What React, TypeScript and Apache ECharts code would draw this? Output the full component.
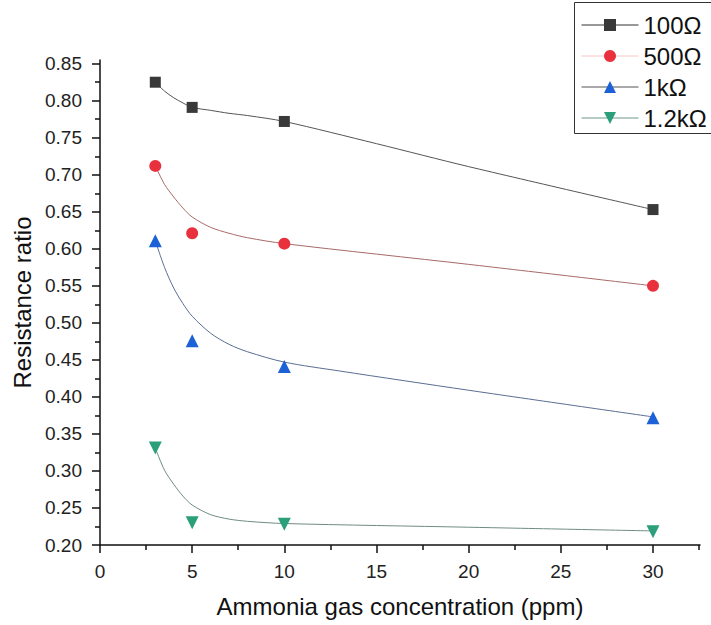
import React, { useEffect, useRef } from "react";
import * as echarts from "echarts";

const FONT = '"Liberation Sans", Arial, Helvetica, sans-serif';

// Measured points
const seriesNames = ["100Ω", "500Ω", "1kΩ", "1.2kΩ"];
const concentrations = [3, 5, 10, 30];
const ratio100 = [0.825, 0.791, 0.772, 0.653];
const ratio500 = [0.712, 0.621, 0.607, 0.55];
const ratio1k = [0.611, 0.476, 0.441, 0.372];
const ratio12k = [0.331, 0.23, 0.228, 0.218];

// Fitted curves
const fit100X = [3, 3.5, 4, 4.5, 5, 6, 7, 8, 10, 15, 20, 30];
const fit100Y = [0.825, 0.813, 0.804, 0.797, 0.791, 0.787, 0.783, 0.78, 0.772, 0.742, 0.711, 0.653];
const fit500X = [3, 3.5, 4, 4.5, 5, 6, 7, 8, 10, 20, 30];
const fit500Y = [0.712, 0.687, 0.67, 0.655, 0.643, 0.629, 0.621, 0.615, 0.607, 0.579, 0.55];
const fit1kX = [3, 3.5, 4, 4.5, 5, 6, 7, 8, 10, 13, 20, 30];
const fit1kY = [0.611, 0.575, 0.547, 0.526, 0.509, 0.486, 0.471, 0.461, 0.447, 0.435, 0.409, 0.373];
const fit12kX = [3, 3.5, 4, 4.5, 5, 6, 7, 8, 10, 20, 30];
const fit12kY = [0.331, 0.301, 0.282, 0.266, 0.254, 0.241, 0.235, 0.232, 0.229, 0.224, 0.219];

// Axis ticks
const xTicks = [0, 5, 10, 15, 20, 25, 30];
const yTicks = [0.2, 0.25, 0.3, 0.35, 0.4, 0.45, 0.5, 0.55, 0.6, 0.65, 0.7, 0.75, 0.8, 0.85];

const markerColors = ["#393939", "#E8313C", "#1C61D6", "#2B9E7A"];
const curveColors = ["#555555", "#a86a6a", "#5a6e92", "#6f8c80"];
const legendLineColors = ["#333333", "#f3c6c6", "#555555", "#6a9a8a"];
const symbols = ["rect", "circle", "triangle", "triangle"];
const symbolSizes = [11, 12, 13, 13];
const symbolRotates = [0, 0, 0, 180];

const pair = (xs: number[], ys: number[]) => xs.map((x, i) => [x, ys[i]]);

export default function App() {
  const ref = useRef<HTMLDivElement>(null);
  useEffect(() => {
    if (!ref.current) return;
    const chart = echarts.init(ref.current, undefined, { renderer: "svg" });
    const measured = [ratio100, ratio500, ratio1k, ratio12k];
    const fits = [
      pair(fit100X, fit100Y),
      pair(fit500X, fit500Y),
      pair(fit1kX, fit1kY),
      pair(fit12kX, fit12kY),
    ];
    const series: any[] = [];
    fits.forEach((d, i) => {
      series.push({
        type: "line",
        name: seriesNames[i] + " fit",
        data: d,
        smooth: 0.3,
        showSymbol: false,
        symbol: "none",
        silent: true,
        lineStyle: { color: curveColors[i], width: 1 },
        z: 2,
      });
    });
    measured.forEach((vals, i) => {
      series.push({
        type: "line",
        name: seriesNames[i],
        data: pair(concentrations, vals),
        symbol: symbols[i],
        symbolSize: symbolSizes[i],
        symbolRotate: symbolRotates[i],
        itemStyle: { color: markerColors[i], opacity: 1 },
        lineStyle: { opacity: 0, width: 0 },
        z: 3,
      });
    });

    chart.setOption({
      animation: false,
      backgroundColor: "#ffffff",
      grid: { left: 100, right: 11, top: 60, bottom: 80, containLabel: false },
      graphic: [
        {
          type: "rect",
          z: 10,
          shape: { x: 574.5, y: 2.5, width: 160, height: 131 },
          style: { fill: "none", stroke: "#333333", lineWidth: 1 },
        },
      ],
      legend: {
        orient: "vertical",
        left: 574,
        top: 2,
        padding: [11, 12, 3, 7],
        itemWidth: 57,
        itemHeight: 15,
        itemGap: 7,
        borderWidth: 0,
        backgroundColor: "#ffffff",
        textStyle: { fontSize: 24, fontFamily: FONT, color: "#111111" },
        data: seriesNames.map((n, i) => ({
          name: n,
          lineStyle: { color: legendLineColors[i], width: 1, opacity: 1 },
          itemStyle: { color: markerColors[i], opacity: 1 },
        })),
      },
      xAxis: {
        type: "value",
        min: 0,
        max: 32.55,
        interval: 5,
        name: "Ammonia gas concentration (ppm)",
        nameLocation: "middle",
        nameGap: 49,
        nameTextStyle: { fontSize: 24, fontFamily: FONT, color: "#111111" },
        axisLine: { show: true, onZero: false, lineStyle: { color: "#111111", width: 1.5 } },
        axisTick: { show: true, length: 8, customValues: xTicks, lineStyle: { color: "#111111", width: 1.5 } },
        minorTick: { show: true, splitNumber: 2, length: 5, lineStyle: { color: "#111111", width: 1.5 } },
        axisLabel: {
          customValues: xTicks,
          margin: 17,
          fontSize: 19,
          fontFamily: FONT,
          color: "#222222",
        },
        splitLine: { show: false },
        minorSplitLine: { show: false },
      },
      yAxis: {
        type: "value",
        min: 0.2,
        max: 0.855,
        interval: 0.05,
        name: "Resistance ratio",
        nameLocation: "middle",
        nameGap: 62,
        nameTextStyle: { fontSize: 24, fontFamily: FONT, color: "#111111" },
        axisLine: { show: true, onZero: false, lineStyle: { color: "#111111", width: 1.5 } },
        axisTick: { show: true, length: 8, customValues: yTicks, lineStyle: { color: "#111111", width: 1.5 } },
        minorTick: { show: true, splitNumber: 2, length: 5, lineStyle: { color: "#111111", width: 1.5 } },
        axisLabel: {
          customValues: yTicks,
          margin: 18,
          fontSize: 19,
          fontFamily: FONT,
          color: "#222222",
          formatter: (v: number) => v.toFixed(2),
        },
        splitLine: { show: false },
        minorSplitLine: { show: false },
      },
      series,
    });
    return () => chart.dispose();
  }, []);
  return (
    <div
      ref={ref}
      style={{ position: "fixed", left: 0, top: 0, width: 711, height: 625, background: "#fff" }}
    />
  );
}
